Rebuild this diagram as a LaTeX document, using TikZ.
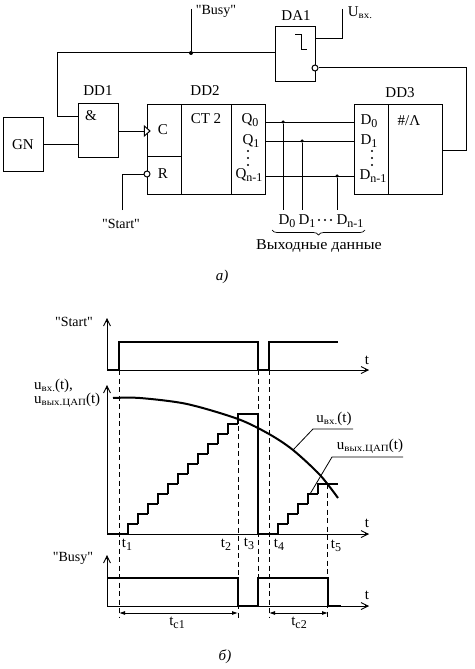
\documentclass[tikz,border=0pt]{standalone}
\usepackage{fontspec}
\setmainfont{Liberation Serif}
\newfontfamily\plainquote{Liberation Serif}
\newfontfamily\widesmall[FakeStretch=1.15]{Liberation Serif}
\newfontfamily\widemain[FakeStretch=1.07]{Liberation Serif}
\usetikzlibrary{arrows.meta}
\usetikzlibrary{decorations.pathreplacing}

\newcommand{\lowidx}[1]{\raisebox{-3pt}{\fontsize{12}{12}\selectfont #1}}
\newcommand{\lowcyr}[1]{\raisebox{-2pt}{\fontsize{9.5}{10}\widesmall #1}}

\tikzset{
  labeltext/.style={inner sep=0pt, font=\fontsize{15}{17}\selectfont},
  quotetext/.style={inner sep=0pt, font=\fontsize{14}{16}\plainquote},
  blockbox/.style={draw, line width=1, inner sep=0pt},
  wire/.style={line width=1},
  junction/.style={circle, fill=black, inner sep=0pt, minimum size=4},
  bubble/.style={circle, draw, fill=white, line width=1, inner sep=0pt, minimum size=6},
  axisline/.style={line width=1, -{Straight Barb[length=7pt,width=7pt,line width=0.9pt,sep=-4pt]Stealth[length=4pt,width=2.5pt,inset=0pt]}},
  signal/.style={line width=2, line cap=square},
  guide/.style={line width=0.8, dash pattern=on 5 off 3.5},
  dimline/.style={line width=0.8, {Latex[length=6pt,width=4pt]}-{Latex[length=6pt,width=4pt]}},
}

\begin{document}
\begin{tikzpicture}[x=1pt,y=-1pt]
\useasboundingbox (0,0) rectangle (474,669);

% blocks
\node[blockbox, minimum width=40, minimum height=54] (gn) at (23,144) {};
\node[labeltext] (gnlabel) at (23,145) {GN};
\node[blockbox, minimum width=40, minimum height=54] (dd1) at (98,130) {};
\node[labeltext] (andlabel) at (91,116) {\&};
\node[labeltext] (dd1label) at (98,91) {DD1};

\node[blockbox, minimum width=34, minimum height=52] (dd2c) at (164,130) {};
\node[blockbox, minimum width=34, minimum height=38] (dd2r) at (164,175) {};
\node[blockbox, minimum width=50, minimum height=90] (dd2ct) at (206,149) {};
\node[blockbox, minimum width=34, minimum height=90] (dd2q) at (248,149) {};
\node[labeltext] (dd2label) at (205,91) {DD2};
\node[labeltext] (clabel) at (163,130) {C};
\node[labeltext] (rlabel) at (163,174) {R};
\node[labeltext] (ctlabel) at (206,119) {CT 2};
\node[labeltext] (q0label) at (250,120) {Q\lowidx{0}};
\node[labeltext] (q1label) at (251,141) {Q\lowidx{1}};
\node[labeltext] (qnlabel) at (249,175) {Q\lowidx{n-1}};

\node[blockbox, minimum width=40, minimum height=54] (da1) at (295,54) {};
\node[labeltext] (da1label) at (296,16) {DA1};
\draw[wire] (295,35) -- (301,35) -- (301,50) -- (307,50);

\node[blockbox, minimum width=34, minimum height=90] (dd3d) at (371,149) {};
\node[blockbox, minimum width=54, minimum height=90] (dd3f) at (415,149) {};
\node[labeltext] (dd3label) at (400,93) {DD3};
\node[labeltext] (codelabel) at (409,121) {\#/Λ};
\node[labeltext] (d0label) at (369,121) {D\lowidx{0}};
\node[labeltext] (d1label) at (369,141) {D\lowidx{1}};
\node[labeltext] (dnlabel) at (373,176) {D\lowidx{n-1}};

\foreach \yd in {151,158,165}{
\fill (248,\yd) circle (1.1);
\fill (372,\yd) circle (1.1);
}

% connections
\coordinate (busyend) at (191,9);
\coordinate (startend) at (122,210);
\coordinate (uend) at (342,9);
\node[junction] (jbusy) at (191,53) {};
\node[bubble] (rpin) at (147,174) {};
\node[bubble] (dapin) at (315,68) {};
\coordinate (dd1in) at (78,116);
\coordinate (dd1out) at (118,131);
\coordinate (dd2in) at (147,131);

\draw[wire] (gn.east) -- (gn.east -| dd1.west);
\draw[wire] (dd1out) -- (dd2in);
\draw[wire] (dd1in) -- (57,116) -- (57,53) -- (da1.west |- jbusy);
\draw[wire] (busyend) -- (jbusy);
\draw[wire] (startend) -- (122,174) -- (rpin);
\draw[wire] (uend) -- (342,39) -- (da1.east |- 342,39);
\draw[wire] (dapin) -- (466,68) -- (466,150) -- (dd3f.east |- 466,150);
\draw[wire, fill=white] (144.3,126) -- (150,131) -- (144.3,136) -- cycle;

\node[quotetext] (busylabel) at (216,11) {"Busy"};
\node[quotetext] (startlabel) at (121,224) {"Start"};
\node[labeltext] (ulabel) at (360,13) {U\lowcyr{вх.}};

\foreach \yq/\xq/\nm in {122/283/a,141/302/b,176/337/c}{
\node[junction, minimum size=3.5] (j\nm) at (\xq,\yq) {};
\coordinate (out\nm) at (\xq,210);
\draw[wire] (dd2q.east |- j\nm) -- (dd3d.west |- j\nm);
\draw[wire] (j\nm) -- (out\nm);
}

\node[labeltext] (da) at (287,221) {D\lowidx{0}};
\node[labeltext] (db) at (307,221) {D\lowidx{1}};
\node[labeltext] (dc) at (350,221) {D\lowidx{n-1}};
\foreach \xd in {319,325,331}{
\fill (\xd,220) circle (1.1);
}
\draw[line width=0.7, decorate, decoration={brace, mirror, amplitude=5}] (272,230) -- (365,230);
\node[labeltext, font=\fontsize{15}{17}\widemain] (datalabel) at (319,246) {Выходные данные};
\node[labeltext, font=\fontsize{15}{17}\selectfont\itshape] (alabel) at (222,277) {а)};

% axes
\coordinate (origa) at (107,370);
\coordinate (origb) at (107,534);
\coordinate (origc) at (107,606);
\foreach \og/\yt/\nm in {origa/318/a,origb/385/b,origc/555/c}{
\coordinate (top\nm) at (107,\yt);
\draw[axisline] (\og) -- (top\nm);
\draw[axisline] (\og) -- (369,0 |- \og);
}
\node[labeltext] (tta) at (367,360) {t};
\node[labeltext] (ttb) at (367,523) {t};
\node[labeltext] (ttc) at (367,595) {t};
\node[quotetext] (startaxis) at (74,322) {"Start"};
\node[quotetext] (busyaxis) at (73,558) {"Busy"};
\node[labeltext, anchor=west] (uaxis) at (34,386) {u\lowcyr{вх.}(t),};
\node[labeltext, anchor=west] (daxis) at (34,400) {u\lowcyr{вых.ЦАП}(t)};

% dashed guides
\draw[guide] (119,370) -- (119,618);
\draw[guide] (238,417) -- (238,618);
\draw[guide] (258,370) -- (258,578);
\draw[guide] (269,370) -- (269,618);
\draw[guide] (327.5,484) -- (327.5,618);

% signals
\draw[signal] (107,370) -- (119,370) -- (119,342) -- (258,342) -- (258,370) -- (269,370) -- (269,342) -- (338,342);
\draw[signal] (107,534) -- (128,534);
\foreach \k in {0,...,10}{
\draw[signal] (128+10*\k,534-10*\k) -- ++(0,-10) -- ++(10,0);
}
\draw[signal] (238,424) -- (238,414) -- (258,414) -- (258,534) -- (278,534);
\foreach \k in {0,...,3}{
\draw[signal] (278+10*\k,534-10*\k) -- ++(0,-10) -- ++(10,0);
}
\draw[signal] (318,494) -- (318,484) -- (338,484);
\draw[signal] plot[smooth] coordinates {(113,398) (140,398) (187,404) (238,419) (269,434) (293,450) (320,475) (338,498)};
\draw[signal] (107,578) -- (238,578) -- (238,606) -- (258,606) -- (258,578) -- (328,578) -- (328,606) -- (341,606);

% curve labels
\node[labeltext] (uinlabel) at (334,419) {u\lowcyr{вх.}(t)};
\node[labeltext] (uoutlabel) at (370,446) {u\lowcyr{вых.ЦАП}(t)};
\coordinate (uinfoot) at (293,450);
\coordinate (uoutfoot) at (310,494);
\draw[line width=0.8] (uinfoot) -- (313,429) -- (353,429);
\draw[line width=0.8] (uoutfoot) -- (332,457) -- (403,457);

% time labels
\node[labeltext] (t1) at (127,545) {t\lowidx{1}};
\node[labeltext] (t2) at (226,545) {t\lowidx{2}};
\node[labeltext] (t3) at (249,544) {t\lowidx{3}};
\node[labeltext] (t4) at (279,545) {t\lowidx{4}};
\node[labeltext] (t5) at (336,546) {t\lowidx{5}};

\coordinate (c1a) at (119,613);
\coordinate (c1b) at (238,613);
\coordinate (c2a) at (269,613);
\coordinate (c2b) at (328,613);
\draw[dimline] (c1a) -- (c1b);
\draw[dimline] (c2a) -- (c2b);
\node[labeltext] (tc1) at (177,623) {t\lowidx{c1}};
\node[labeltext] (tc2) at (299,623) {t\lowidx{c2}};
\node[labeltext, font=\fontsize{15}{17}\selectfont\itshape] (blabel) at (225,657) {б)};

\end{tikzpicture}
\end{document}
